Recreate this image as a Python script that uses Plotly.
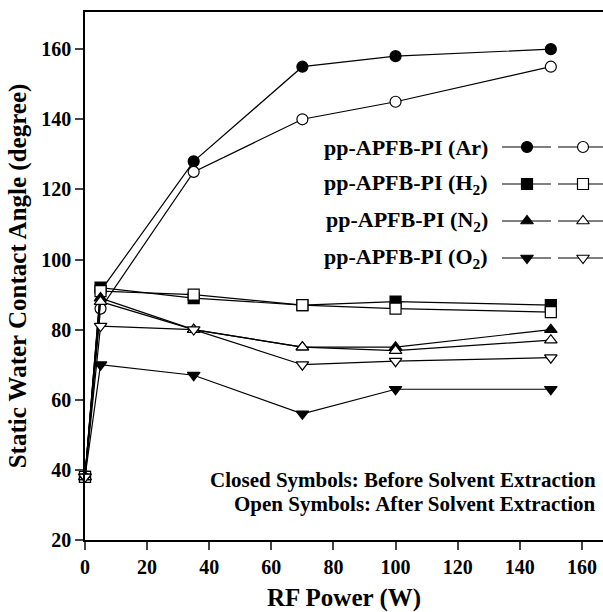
import plotly.graph_objects as go

# ---- data ----
rf_power = [0, 5, 35, 70, 100, 150]

ar_closed = [38, 91, 128, 155, 158, 160]
ar_open = [38, 86, 125, 140, 145, 155]
h2_closed = [38, 92, 89, 87, 88, 87]
h2_open = [38, 91, 90, 87, 86, 85]
n2_closed = [38, 89, 80, 75, 75, 80]
n2_open = [38, 88, 80, 75, 74, 77]
o2_closed = [38, 70, 67, 56, 63, 63]
o2_open = [38, 81, 80, 70, 71, 72]

series_names = ["pp-APFB-PI (Ar)", "pp-APFB-PI (H<sub>2</sub>)",
                "pp-APFB-PI (N<sub>2</sub>)", "pp-APFB-PI (O<sub>2</sub>)"]
closed_series = [ar_closed, h2_closed, n2_closed, o2_closed]
open_series = [ar_open, h2_open, n2_open, o2_open]
symbols = ["circle", "square", "triangle-up", "triangle-down"]

x_ticks = [0, 20, 40, 60, 80, 100, 120, 140, 160]
y_ticks = [20, 40, 60, 80, 100, 120, 140, 160]

FONT = "Liberation Serif"
W, H = 603, 612
L, R, T, B = 85, 0, 12, 72

def bold(size):
    return dict(family=FONT, size=size, color="black", weight="bold")

fig = go.Figure()

def add_series(y, sym, fill):
    fig.add_trace(go.Scatter(
        x=rf_power, y=y, mode="lines+markers",
        line=dict(color="black", width=1.2),
        marker=dict(symbol=sym, size=11,
                    color="black" if fill else "white",
                    line=dict(color="black", width=1.2)),
        showlegend=False, cliponaxis=False,
    ))

for i in range(4):
    add_series(closed_series[i], symbols[i], True)
    add_series(open_series[i], symbols[i], False)

# ---- custom two-symbol legend (drawn on a pixel-space overlay axis) ----
legend_rows = [147, 184, 221, 258]
for i, yrow in enumerate(legend_rows):
    for (x0, xm, x1, fill) in [(502, 527, 551, True), (558, 583, 606, False)]:
        fig.add_trace(go.Scatter(
            x=[x0, xm, x1], y=[yrow, yrow, yrow], xaxis="x2", yaxis="y2",
            mode="lines", line=dict(color="black", width=1.2),
            showlegend=False, hoverinfo="skip", cliponaxis=False))
        fig.add_trace(go.Scatter(
            x=[xm], y=[yrow], xaxis="x2", yaxis="y2", mode="markers",
            marker=dict(symbol=symbols[i], size=11,
                        color="black" if fill else "white",
                        line=dict(color="black", width=1.2)),
            showlegend=False, hoverinfo="skip", cliponaxis=False))
    fig.add_annotation(x=490, y=yrow, xref="x2", yref="y2", text=series_names[i],
                       showarrow=False, xanchor="right", yanchor="middle",
                       font=bold(22))

fig.add_annotation(x=598, y=480, xref="x2", yref="y2",
                   text="Closed Symbols: Before Solvent Extraction",
                   showarrow=False, xanchor="right", yanchor="middle",
                   font=bold(21))
fig.add_annotation(x=598, y=504, xref="x2", yref="y2",
                   text="Open Symbols: After Solvent Extraction",
                   showarrow=False, xanchor="right", yanchor="middle",
                   font=bold(21))

fig.update_layout(
    width=W, height=H,
    margin=dict(l=L, r=R, t=T, b=B),
    paper_bgcolor="white", plot_bgcolor="white",
    font=dict(family=FONT, color="black"),
    xaxis=dict(range=[0, 166.8], tickvals=x_ticks, ticks="outside", ticklen=8,
               tickwidth=1.5, linecolor="black", linewidth=1.5, mirror=True,
               showgrid=False, zeroline=False,
               tickfont=bold(20),
               title=dict(text="RF Power (W)", standoff=16, font=bold(25))),
    yaxis=dict(range=[20, 170.6], tickvals=y_ticks, ticks="outside", ticklen=8,
               tickwidth=1.5, linecolor="black", linewidth=1.5, mirror=False,
               showgrid=False, zeroline=False,
               tickfont=bold(20),
               title=dict(text="Static Water Contact Angle (degree)", standoff=8,
                          font=bold(25))),
    xaxis2=dict(range=[L, W - R], overlaying="x", visible=False, fixedrange=True),
    yaxis2=dict(range=[H - B, T], overlaying="y", visible=False, fixedrange=True),
)

fig.write_html("out.html")
